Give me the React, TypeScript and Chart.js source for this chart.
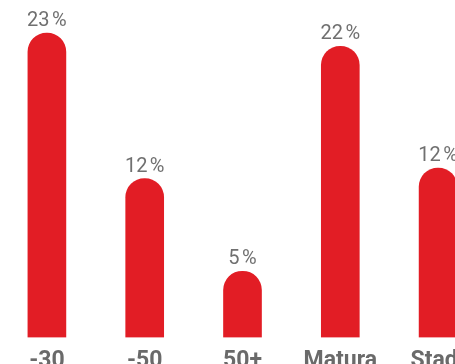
import React, { useEffect, useRef } from "react";
import { Chart, registerables } from "chart.js";

Chart.register(...registerables);

const categories = ["-30", "-50", "50+", "Matura", "Stadt"];
const values = [23, 12, 5, 22, 12.8];

const RED = "#E21D25";
const GRAY = "#6a6a6a";

const valueLabelPlugin = {
  id: "valueLabels",
  afterDatasetsDraw(chart: any) {
    const ctx = chart.ctx;
    const meta = chart.getDatasetMeta(0);
    ctx.save();
    ctx.font = "400 20px Roboto";
    ctx.fillStyle = "#707070";
    ctx.textAlign = "center";
    ctx.textBaseline = "alphabetic";
    meta.data.forEach((bar: any, i: number) => {
      const v = chart.data.datasets[0].data[i] as number;
      ctx.fillText(Math.floor(v) + "\u202F%", bar.x, bar.y - 7);
    });
    ctx.restore();
  },
};

export default function App() {
  const ref = useRef<HTMLCanvasElement>(null);
  useEffect(() => {
    if (!ref.current) return;
    const chart = new Chart(ref.current, {
      type: "bar",
      data: {
        labels: categories,
        datasets: [
          {
            data: values,
            backgroundColor: RED,
            borderRadius: 19,
            borderSkipped: "bottom",
            barThickness: 38,
          },
        ],
      },
      options: {
        responsive: false,
        animation: false,
        layout: { padding: 0 },
        plugins: {
          legend: { display: false },
          tooltip: { enabled: false },
        },
        scales: {
          y: { display: false, min: 0, max: 25.5 },
          x: {
            grid: { display: false, drawTicks: false },
            border: { display: false },
            ticks: {
              color: GRAY,
              padding: 10,
              font: { family: "Roboto", size: 23, weight: "bold" },
              maxRotation: 0,
              autoSkip: false,
            },
          },
        },
      },
      plugins: [valueLabelPlugin],
    });
    return () => chart.destroy();
  }, []);
  return (
    <div
      style={{
        position: "fixed",
        left: 0,
        top: 0,
        width: 455,
        height: 364,
        overflow: "hidden",
        background: "#fff",
      }}
    >
      <canvas
        ref={ref}
        width={489}
        height={385}
        style={{ position: "absolute", left: -2, top: 0 }}
      />
    </div>
  );
}
